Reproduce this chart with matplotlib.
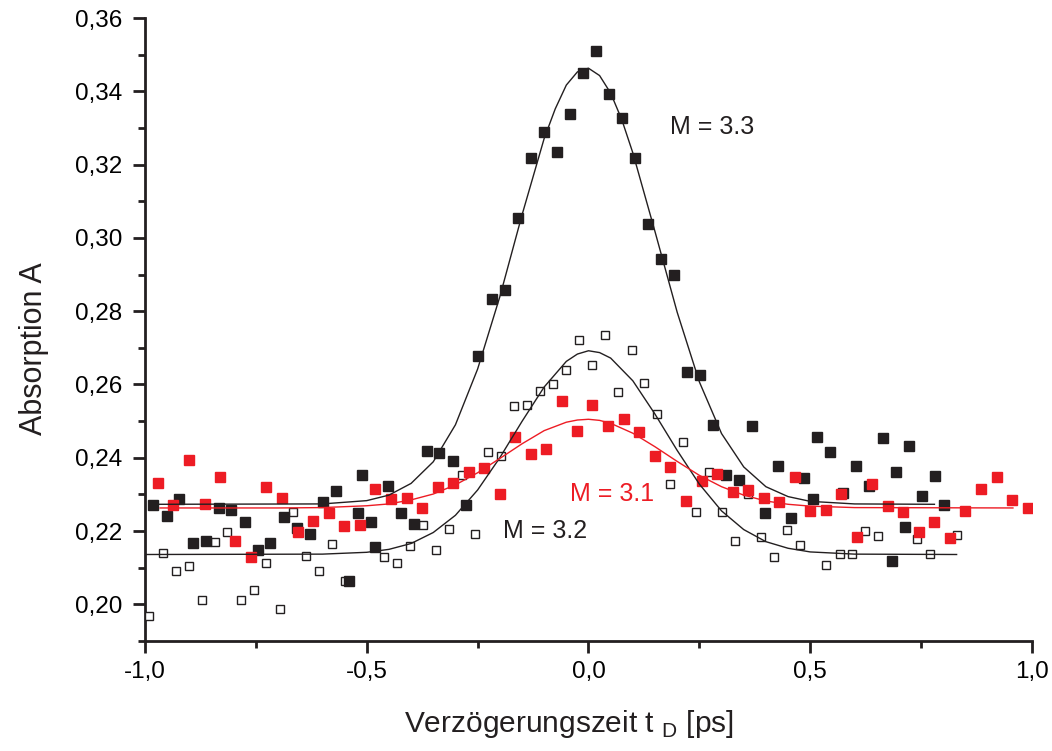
import numpy as np
import matplotlib.pyplot as plt

plt.rcParams['font.family'] = ['Liberation Sans', 'DejaVu Sans']
plt.rcParams['mathtext.fontset'] = 'custom'
plt.rcParams['mathtext.rm'] = 'Liberation Sans'

# Messpunkte M = 3.3 (gefuellte schwarze Quadrate)
x33 = [-0.981, -0.951, -0.923, -0.892, -0.862, -0.834, -0.805, -0.775, -0.746, -0.717,
       -0.687, -0.658, -0.629, -0.599, -0.570, -0.541, -0.520, -0.511, -0.491, -0.482,
       -0.453, -0.423, -0.394, -0.365, -0.336, -0.306, -0.277, -0.248, -0.218, -0.188,
       -0.159, -0.130, -0.100, -0.071, -0.042, -0.012, 0.017, 0.046, 0.076, 0.105,
       0.134, 0.163, 0.193, 0.221, 0.251, 0.281, 0.310, 0.339, 0.369, 0.398,
       0.427, 0.457, 0.486, 0.507, 0.516, 0.545, 0.574, 0.604, 0.633, 0.663,
       0.684, 0.693, 0.713, 0.722, 0.751, 0.781, 0.801]
y33 = [0.2270, 0.2242, 0.2288, 0.2167, 0.2172, 0.2263, 0.2257, 0.2224, 0.2147, 0.2168,
       0.2238, 0.2208, 0.2193, 0.2278, 0.2308, 0.2064, 0.2250, 0.2352, 0.2224, 0.2157,
       0.2323, 0.2250, 0.2219, 0.2418, 0.2412, 0.2392, 0.2270, 0.2679, 0.2834, 0.2858,
       0.3055, 0.3219, 0.3289, 0.3234, 0.3338, 0.3450, 0.3510, 0.3393, 0.3328, 0.3219,
       0.3039, 0.2943, 0.2899, 0.2633, 0.2627, 0.2489, 0.2354, 0.2340, 0.2487, 0.2250,
       0.2377, 0.2236, 0.2345, 0.2288, 0.2456, 0.2416, 0.2303, 0.2378, 0.2324, 0.2453,
       0.2117, 0.2360, 0.2211, 0.2432, 0.2296, 0.2350, 0.2272]

# Messpunkte M = 3.2 (offene Quadrate)
x32 = [-0.990, -0.960, -0.931, -0.901, -0.872, -0.843, -0.814, -0.784, -0.755, -0.726,
       -0.696, -0.667, -0.638, -0.608, -0.579, -0.550, -0.461, -0.432, -0.402, -0.373,
       -0.344, -0.315, -0.285, -0.256, -0.227, -0.197, -0.168, -0.139, -0.109, -0.080,
       -0.051, -0.021, 0.008, 0.038, 0.067, 0.097, 0.126, 0.155, 0.184, 0.214,
       0.243, 0.272, 0.302, 0.331, 0.360, 0.390, 0.419, 0.448, 0.477, 0.536,
       0.566, 0.595, 0.624, 0.653, 0.741, 0.771, 0.830]
y32 = [0.1968, 0.2140, 0.2091, 0.2105, 0.2011, 0.2170, 0.2197, 0.2012, 0.2038, 0.2113,
       0.1988, 0.2251, 0.2133, 0.2091, 0.2164, 0.2064, 0.2130, 0.2114, 0.2158, 0.2217,
       0.2147, 0.2206, 0.2354, 0.2192, 0.2416, 0.2406, 0.2541, 0.2543, 0.2582, 0.2601,
       0.2639, 0.2721, 0.2654, 0.2736, 0.2580, 0.2693, 0.2604, 0.2519, 0.2328, 0.2442,
       0.2251, 0.2360, 0.2251, 0.2173, 0.2300, 0.2184, 0.2130, 0.2204, 0.2161, 0.2107,
       0.2138, 0.2138, 0.2200, 0.2186, 0.2177, 0.2137, 0.2189]

# Messpunkte M = 3.1 (rote Quadrate)
x31 = [-0.971, -0.936, -0.901, -0.865, -0.831, -0.796, -0.761, -0.726, -0.691, -0.656,
       -0.621, -0.586, -0.551, -0.515, -0.481, -0.445, -0.410, -0.375, -0.340, -0.306,
       -0.270, -0.236, -0.200, -0.166, -0.130, -0.096, -0.060, -0.026, 0.009, 0.045,
       0.080, 0.115, 0.150, 0.184, 0.219, 0.255, 0.290, 0.325, 0.360, 0.395,
       0.430, 0.465, 0.499, 0.535, 0.569, 0.605, 0.640, 0.675, 0.710, 0.745,
       0.780, 0.815, 0.850, 0.885, 0.920, 0.955, 0.990]
y31 = [0.2332, 0.2272, 0.2393, 0.2274, 0.2348, 0.2173, 0.2130, 0.2319, 0.2290, 0.2197,
       0.2227, 0.2250, 0.2213, 0.2217, 0.2315, 0.2288, 0.2289, 0.2263, 0.2319, 0.2330,
       0.2360, 0.2372, 0.2301, 0.2457, 0.2410, 0.2423, 0.2554, 0.2472, 0.2543, 0.2487,
       0.2505, 0.2470, 0.2404, 0.2375, 0.2282, 0.2337, 0.2356, 0.2306, 0.2312, 0.2289,
       0.2279, 0.2348, 0.2256, 0.2258, 0.2300, 0.2184, 0.2329, 0.2268, 0.2252, 0.2197,
       0.2224, 0.2180, 0.2254, 0.2314, 0.2347, 0.2284, 0.2264]

fx33 = [-0.97, -0.6, -0.5, -0.45, -0.4, -0.35, -0.3, -0.25, -0.2, -0.15, -0.1, -0.075,
        -0.05, -0.025, 0.0, 0.025, 0.05, 0.075, 0.1, 0.15, 0.2, 0.25, 0.3, 0.35, 0.4,
        0.45, 0.5, 0.6, 0.78]
fy33 = [0.2273, 0.2274, 0.2283, 0.2298, 0.2330, 0.2389, 0.2490, 0.2642, 0.2839, 0.3062,
        0.3271, 0.3352, 0.3417, 0.3453, 0.3463, 0.3443, 0.3395, 0.3323, 0.3232, 0.3017,
        0.2797, 0.2607, 0.2466, 0.2375, 0.2321, 0.2294, 0.2281, 0.2274, 0.2273]
fx32 = [-1.0, -0.6, -0.5, -0.45, -0.4, -0.35, -0.3, -0.25, -0.2, -0.15, -0.1, -0.05,
        -0.025, 0.0, 0.025, 0.05, 0.1, 0.15, 0.2, 0.25, 0.3, 0.35, 0.4, 0.45, 0.5, 0.6, 0.83]
fy32 = [0.2136, 0.2137, 0.2142, 0.2150, 0.2166, 0.2196, 0.2243, 0.2312, 0.2400, 0.2499,
        0.2593, 0.2663, 0.2683, 0.2692, 0.2687, 0.2672, 0.2610, 0.2519, 0.2420, 0.2328,
        0.2255, 0.2204, 0.2171, 0.2153, 0.2143, 0.2137, 0.2136]
fx31 = [-0.966, -0.7, -0.6, -0.5, -0.45, -0.4, -0.35, -0.3, -0.25, -0.2, -0.15, -0.1,
        -0.05, -0.025, 0.0, 0.025, 0.05, 0.1, 0.15, 0.2, 0.25, 0.3, 0.35, 0.4, 0.45, 0.5,
        0.6, 0.957]
fy31 = [0.2263, 0.2263, 0.2264, 0.2269, 0.2274, 0.2285, 0.2301, 0.2326, 0.2359, 0.2398,
        0.2438, 0.2474, 0.2497, 0.2503, 0.2505, 0.2502, 0.2494, 0.2467, 0.2430, 0.2390,
        0.2352, 0.2321, 0.2298, 0.2282, 0.2273, 0.2268, 0.2264, 0.2263]

xticks = [-1.0, -0.5, 0.0, 0.5, 1.0]
xticklabels = ['-1,0', '-0,5', '0,0', '0,5', '1,0']
yticks = [0.20, 0.22, 0.24, 0.26, 0.28, 0.30, 0.32, 0.34, 0.36]
yticklabels = ['0,20', '0,22', '0,24', '0,26', '0,28', '0,30', '0,32', '0,34', '0,36']

rot = '#ed1c24'
schwarz = '#231f20'

fig = plt.figure(figsize=(10.52, 7.51), dpi=100)
ax = fig.add_axes([0.1378, 0.1465, 0.8432, 0.8295])

ax.plot(x32, y32, 's', ms=6.4, mfc='white', mec=schwarz, mew=1.0, zorder=3)
ax.plot(x33, y33, 's', ms=6.5, color=schwarz, zorder=4)
ax.plot(x31, y31, 's', ms=6.5, color=rot, zorder=5)

ax.plot(fx33, fy33, '-', color=schwarz, lw=1.0, zorder=6)
ax.plot(fx32, fy32, '-', color=schwarz, lw=1.0, zorder=6)
ax.plot(fx31, fy31, '-', color=rot, lw=1.0, zorder=6)

ax.text(0.184, 0.3302, 'M = 3.3', fontsize=18, color=schwarz, va='center')
ax.text(-0.042, 0.2300, 'M = 3.1', fontsize=18, color=rot, va='center')
ax.text(-0.193, 0.2199, 'M = 3.2', fontsize=18, color=schwarz, va='center')

ax.set_xlim(-1.0, 1.0)
ax.set_ylim(0.19, 0.36)
ax.set_xticks(xticks)
ax.set_xticklabels(xticklabels)
ax.set_xticks([-0.75, -0.25, 0.25, 0.75], minor=True)
ax.set_yticks(yticks)
ax.set_yticklabels(yticklabels)
ax.set_yticks([0.19, 0.21, 0.23, 0.25, 0.27, 0.29, 0.31, 0.33, 0.35], minor=True)

for s in ['top', 'right']:
    ax.spines[s].set_visible(False)
for s in ['left', 'bottom']:
    ax.spines[s].set_linewidth(2.0)
    ax.spines[s].set_color(schwarz)

ax.tick_params(which='major', length=8.5, width=2.0, color=schwarz, labelsize=17.5, pad=8)
ax.tick_params(which='minor', length=5, width=2.0, color=schwarz)
ax.tick_params(axis='x', which='major', pad=6)

ax.set_xlabel(r'Verzögerungszeit t $_{\mathrm{D}}$ [ps]', fontsize=21.5, color=schwarz)
ax.set_ylabel('Absorption A', fontsize=22, color=schwarz)
ax.xaxis.set_label_coords(0.478, -0.107)
ax.yaxis.set_label_coords(-0.108, 0.47)

fig.savefig('out.png', dpi=100)
